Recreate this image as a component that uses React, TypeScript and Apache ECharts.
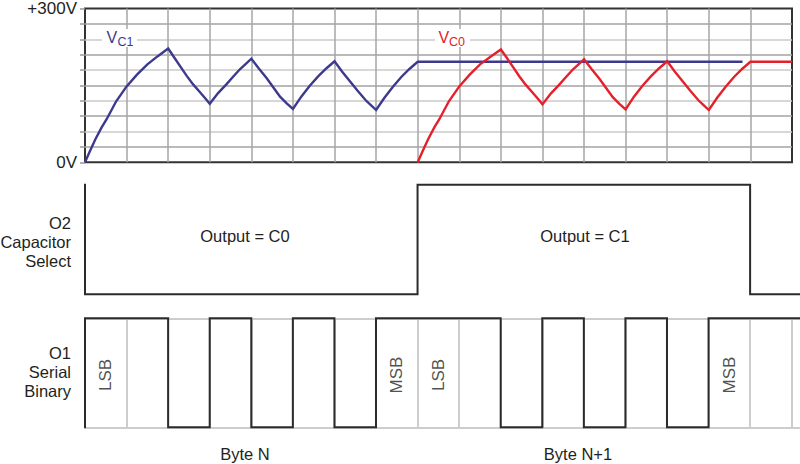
import React, { useEffect, useRef } from 'react';
import * as echarts from 'echarts';

// ---- data ----
const voltageMin = 0;
const voltageMax = 300;
const voltageStep = 30;
const voltageLabels: Record<number, string> = { 0: '0V', 300: '+300V' };

// V_C1 (navy): charge, then discharge/recharge cycles, then hold
const vc1Points: [number, number][] = [
  [0, 0], [0.12, 22], [0.25, 45], [0.4, 68], [0.52, 84], [0.75, 119], [1, 148],
  [1.25, 171], [1.5, 191], [1.75, 207], [2, 222],
  [2.15, 204], [2.29, 187], [2.45, 168], [2.6, 152], [2.75, 138], [2.9, 124], [3, 114],
  [3.2, 135], [3.41, 153], [3.55, 166], [3.73, 182], [3.88, 193], [4, 202],
  [4.18, 183], [4.37, 164], [4.53, 146], [4.69, 128], [4.85, 115], [5, 104],
  [5.2, 128], [5.4, 149], [5.6, 167], [5.8, 183], [6, 197],
  [6.18, 177], [6.36, 159], [6.55, 140], [6.75, 121], [6.88, 111], [7, 102],
  [7.2, 126], [7.4, 147], [7.6, 166], [7.8, 182], [8, 196],
  [15.81, 196],
];

// V_C0 (red)
const vc0Points: [number, number][] = [
  [8, 0], [8.12, 22], [8.25, 45], [8.4, 68], [8.52, 84], [8.75, 119], [9, 148],
  [9.25, 171], [9.5, 191], [9.75, 206], [10, 220],
  [10.15, 203], [10.29, 186], [10.45, 167], [10.6, 151], [10.75, 137], [10.9, 123], [11, 113],
  [11.2, 134], [11.41, 152], [11.55, 165], [11.73, 181], [11.88, 192], [12, 201],
  [12.18, 182], [12.37, 163], [12.53, 145], [12.69, 127], [12.85, 114], [13, 103],
  [13.2, 128], [13.4, 149], [13.6, 167], [13.8, 183], [14, 197],
  [14.18, 177], [14.36, 159], [14.55, 140], [14.75, 121], [14.88, 111], [15, 102],
  [15.2, 126], [15.4, 147], [15.6, 166], [15.8, 182], [16, 196],
  [17, 196],
];

// O2 capacitor select: edges and levels between them
const o2Edges = [-0.84, 0, 8, 16, 17.2];
const o2Levels = [1, 0, 1, 0];
const o2Texts = ['Output = C0', 'Output = C1'];

// O1 serial binary
const leadInStart = -0.84;
const leadInLevel = 0;
const byteN = [1, 1, 0, 1, 0, 1, 0, 1];
const byteN1 = [1, 1, 0, 1, 0, 1, 0, 1];
const trailingBits = [1, 1];
const bitLabels = [
  { bit: 0, text: 'LSB' },
  { bit: 7, text: 'MSB' },
  { bit: 8, text: 'LSB' },
  { bit: 15, text: 'MSB' },
];
const byteTexts = ['Byte N', 'Byte N+1'];

const topXMax = 17;
const lowerXMax = 17.2;

// ---- styling ----
const FONT = '"Liberation Sans", Arial, Helvetica, sans-serif';
const TEXT = '#231f20';
const NAVY = '#3d3a8d';
const RED = '#e4202b';
const WAVE = '#2b2b2b';

function buildO2(): [number, number][] {
  const pts: [number, number][] = [];
  for (let i = 0; i < o2Levels.length; i++) {
    pts.push([o2Edges[i], o2Levels[i]]);
    pts.push([o2Edges[i + 1], o2Levels[i]]);
  }
  return pts;
}

function buildO1(): [number, number][] {
  const pts: [number, number][] = [[leadInStart, leadInLevel], [0, leadInLevel]];
  const bits = [...byteN, ...byteN1, ...trailingBits];
  bits.forEach((b, i) => {
    pts.push([i, b]);
    pts.push([Math.min(i + 1, lowerXMax), b]);
  });
  return pts;
}

export default function App() {
  const ref = useRef<HTMLDivElement>(null);

  useEffect(() => {
    document.body.style.margin = '0';
    if (!ref.current) return;
    const chart = echarts.init(ref.current, undefined, { renderer: 'svg' });

    const textStyle = (size: number) => ({ fontFamily: FONT, fontSize: size, fill: TEXT });

    const option: any = {
      animation: false,
      backgroundColor: '#ffffff',
      grid: [
        { left: 85, right: 8, top: 6, height: 156.3, show: true, borderColor: '#333333', borderWidth: 2, backgroundColor: 'transparent' },
        { left: 85, right: 0, top: 184.7, height: 109.6 },
        { left: 85, right: 0, top: 318.3, height: 109 },
      ],
      xAxis: [
        {
          gridIndex: 0, type: 'value', min: 0, max: topXMax, interval: 1,
          axisLine: { show: false }, axisTick: { show: false }, axisLabel: { show: false },
          splitLine: { show: true, showMinLine: false, showMaxLine: false, lineStyle: { color: '#a6a6a6', width: 1.5 } },
        },
        { gridIndex: 1, type: 'value', min: 0, max: lowerXMax, show: false, splitLine: { show: false } },
        {
          gridIndex: 2, type: 'value', min: 0, max: lowerXMax, interval: 1,
          axisLine: { show: false }, axisTick: { show: false }, axisLabel: { show: false },
          splitLine: { show: true, showMinLine: false, showMaxLine: false, lineStyle: { color: '#cdcdcd', width: 2 } },
        },
      ],
      yAxis: [
        {
          gridIndex: 0, type: 'value', min: voltageMin, max: voltageMax, interval: voltageStep,
          axisLine: { show: false },
          axisTick: { show: true, length: 5, lineStyle: { color: '#9a9a9a', width: 1.5 } },
          axisLabel: {
            show: true, margin: 8, fontSize: 17, fontFamily: FONT, color: TEXT,
            formatter: (v: number) => voltageLabels[v] ?? '',
          },
          splitLine: { show: true, showMinLine: false, showMaxLine: false, lineStyle: { color: ['#a3a3a3', '#cacaca'], width: 1.5 } },
        },
        { gridIndex: 1, type: 'value', min: 0, max: 1, show: false, splitLine: { show: false } },
        {
          gridIndex: 2, type: 'value', min: 0, max: 1, interval: 1,
          axisLine: { show: false }, axisTick: { show: false }, axisLabel: { show: false },
          splitLine: { show: true, lineStyle: { color: '#cdcdcd', width: 2 } },
        },
      ],
      series: [
        {
          type: 'line', xAxisIndex: 0, yAxisIndex: 0, data: vc1Points, symbol: 'none',
          lineStyle: { color: NAVY, width: 2.4, join: 'miter' }, z: 3,
        },
        {
          type: 'line', xAxisIndex: 0, yAxisIndex: 0, data: vc0Points, symbol: 'none',
          lineStyle: { color: RED, width: 2.4, join: 'miter' }, z: 4,
        },
        {
          type: 'line', xAxisIndex: 1, yAxisIndex: 1, data: buildO2(), symbol: 'none', clip: false,
          lineStyle: { color: WAVE, width: 2, join: 'miter' }, z: 3,
        },
        {
          type: 'line', xAxisIndex: 2, yAxisIndex: 2, data: buildO1(), symbol: 'none', clip: false,
          lineStyle: { color: WAVE, width: 2, join: 'miter' }, z: 3,
        },
        {
          type: 'scatter', xAxisIndex: 2, yAxisIndex: 2, symbolSize: 0, silent: true,
          data: bitLabels.map((b) => [b.bit + 0.5, 0.48, b.text]),
          label: {
            show: true, position: 'inside', rotate: 90, fontSize: 17, fontFamily: FONT, color: TEXT,
            formatter: (p: any) => p.value[2],
          },
          z: 5,
        },
      ],
      graphic: [
        // V_C1 label
        { type: 'rect', left: 102, top: 29, shape: { width: 35, height: 18 }, style: { fill: '#ffffff' }, z: 10 },
        { type: 'text', x: 106.5, y: 37.5, style: { text: 'V', fontFamily: FONT, fontSize: 16, fill: NAVY, align: 'left', verticalAlign: 'middle' }, z: 11 },
        { type: 'text', x: 117.5, y: 41.8, style: { text: 'C1', fontFamily: FONT, fontSize: 12.5, fill: NAVY, align: 'left', verticalAlign: 'middle' }, z: 11 },
        // V_C0 label
        { type: 'rect', left: 435, top: 29, shape: { width: 35, height: 18 }, style: { fill: '#ffffff' }, z: 10 },
        { type: 'text', x: 438.5, y: 37.5, style: { text: 'V', fontFamily: FONT, fontSize: 16, fill: RED, align: 'left', verticalAlign: 'middle' }, z: 11 },
        { type: 'text', x: 449, y: 41.8, style: { text: 'C0', fontFamily: FONT, fontSize: 12.5, fill: RED, align: 'left', verticalAlign: 'middle' }, z: 11 },
        // panel titles
        { type: 'text', x: 71, y: 242, style: { ...textStyle(16.5), text: 'O2\nCapacitor\nSelect', align: 'right', verticalAlign: 'middle', lineHeight: 19 } },
        { type: 'text', x: 71, y: 372, style: { ...textStyle(16.5), text: 'O1\nSerial\nBinary', align: 'right', verticalAlign: 'middle', lineHeight: 19 } },
        // output labels
        { type: 'text', x: 245, y: 236, style: { ...textStyle(16.5), text: o2Texts[0], align: 'center', verticalAlign: 'middle' } },
        { type: 'text', x: 585, y: 236, style: { ...textStyle(16.5), text: o2Texts[1], align: 'center', verticalAlign: 'middle' } },
        // byte labels
        { type: 'text', x: 245, y: 454, style: { ...textStyle(16.5), text: byteTexts[0], align: 'center', verticalAlign: 'middle' } },
        { type: 'text', x: 578, y: 454, style: { ...textStyle(16.5), text: byteTexts[1], align: 'center', verticalAlign: 'middle' } },
      ],
    };

    chart.setOption(option);
    return () => chart.dispose();
  }, []);

  return (
    <div
      ref={ref}
      style={{ position: 'absolute', left: 0, top: 0, width: 800, height: 464, background: '#fff' }}
    />
  );
}
